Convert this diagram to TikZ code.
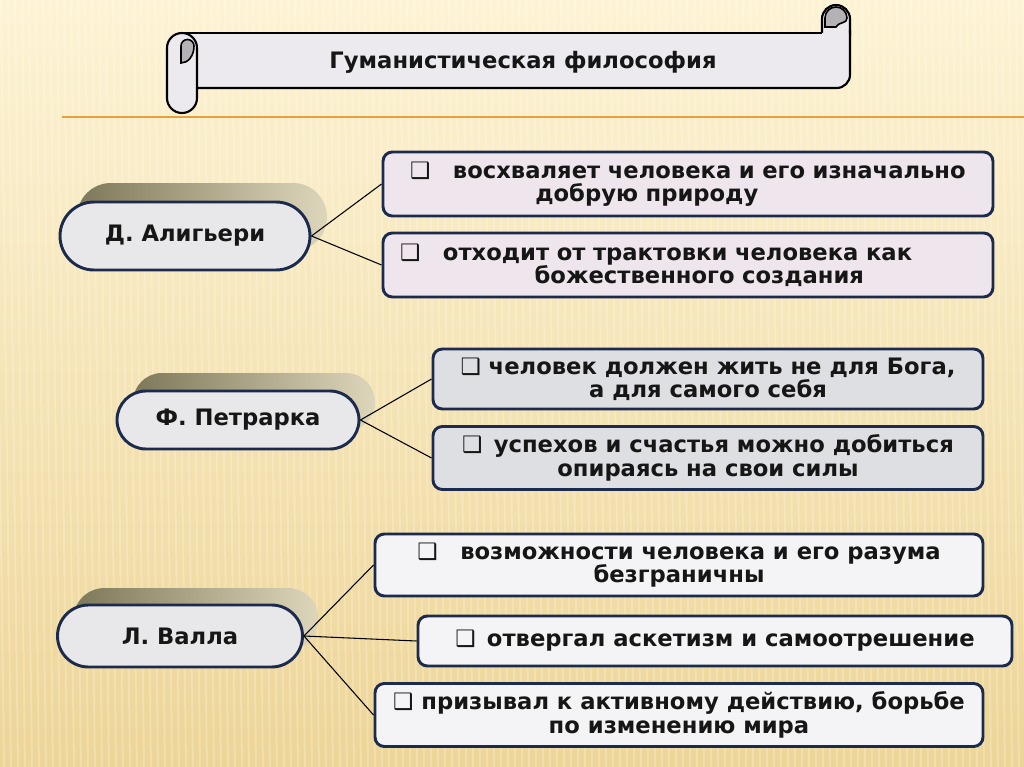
\documentclass[tikz,border=0pt]{standalone}
\usepackage{fontspec}
\setmainfont{DejaVu Sans}
\usepackage{xcolor}
\usetikzlibrary{shapes.misc,calc}
\definecolor{ink}{HTML}{161616}
\definecolor{navy}{HTML}{1C2A4E}
\definecolor{paperTop}{HTML}{FDF3D4}
\definecolor{paperBot}{HTML}{EDD597}
\definecolor{rule}{HTML}{E8A03C}
\definecolor{scroll}{HTML}{ECEAEF}
\definecolor{rollgrey}{HTML}{B4B2B6}
\definecolor{pillfill}{HTML}{E8E8EA}
\definecolor{oliveD}{HTML}{7E785A}
\definecolor{oliveL}{HTML}{DDD6BB}
\definecolor{pinkish}{HTML}{EEE6EC}
\definecolor{marble}{HTML}{DEDFE2}
\definecolor{whitish}{HTML}{F4F4F6}
\newdimen\pxu \pxu=0.75pt
\tikzset{
  every picture/.style={line width=0.8pt, text=ink},
  txt/.style={font=\bfseries\fontsize{17}{17.5}\selectfont},
  pill/.style={txt, rounded rectangle, draw=navy, line width=2.2pt, fill=pillfill, inner sep=0pt},
  pillback/.style={rounded rectangle, left color=oliveD, right color=oliveL, draw=none, inner sep=0pt},
  item/.style={txt, draw=navy, line width=2.2pt, rounded corners=7pt, align=center, inner sep=0pt},
  link/.style={draw=black, line width=0.8pt},
  scrollpart/.style={draw=black, line width=1.6pt, fill=scroll, line join=round},
}

\begin{document}
\begin{tikzpicture}[x=\pxu, y=-\pxu]
\useasboundingbox (0,0) rectangle (1024,767);
% background
\shade[top color=paperTop, bottom color=paperBot] (0,0) rectangle (1024,767);
\foreach \x in {-20,-13,...,1030} \draw[white, opacity=0.22, line width=2\pxu] (\x,0) -- (\x+10,767);
\draw[rule, line width=2\pxu] (62,117) -- (1024,117);

% title scroll
\filldraw[scrollpart] (822,36) -- (822,19) arc (180:360:14) -- (850,36);
\filldraw[draw=black, line width=1.2pt, fill=rollgrey] (825,27) -- (825,18) arc (180:360:11) .. controls (847,24) and (840,21) .. (836,27) -- cycle;
\fill[scroll] (182,33) -- (850,33) -- (850,80) -- (840,88) -- (182,88) -- cycle;
\draw[scrollpart, fill=none] (182,33) -- (822,33);
\draw[scrollpart, fill=none, rounded corners=10pt] (850,30) -- (850,88) -- (182,88);
\filldraw[scrollpart] (167,48) arc (180:360:15) -- (197,98) arc (0:180:15) -- cycle;
\filldraw[draw=black, line width=1.2pt, fill=rollgrey] (181,63) -- (181,46) arc (180:360:6.5) .. controls (194,56) and (188,63) .. (181,63) -- cycle;
\node[txt] (title) at (523,62) {Гуманистическая философия};

% thinkers
\node[pillback, minimum width=250\pxu, minimum height=68\pxu] (ali-b) at (202,217) {};
\node[pill, minimum width=250\pxu, minimum height=68\pxu] (ali) at (185,236) {Д. Алигьери};
\node[pillback, minimum width=242\pxu, minimum height=58\pxu] (pet-b) at (254,402) {};
\node[pill, minimum width=242\pxu, minimum height=58\pxu] (pet) at (238,420) {Ф. Петрарка};
\node[pillback, minimum width=245\pxu, minimum height=62\pxu] (val-b) at (196,619) {};
\node[pill, minimum width=245\pxu, minimum height=62\pxu] (val) at (180,636) {Л. Валла};

% ideas
\node[item, fill=pinkish, align=left, text width=556\pxu, minimum width=610\pxu, minimum height=64\pxu] (a1) at (688,184)
  {❑\quad восхваляет человека и его изначально\\\hspace*{94pt}добрую природу};
\node[item, fill=pinkish, align=left, text width=576\pxu, minimum width=610\pxu, minimum height=64\pxu] (a2) at (688,265)
  {❑\quad отходит от трактовки человека как\\\hspace*{101pt}божественного создания};
\node[item, fill=marble, minimum width=550\pxu, minimum height=60\pxu] (p1) at (708,379)
  {❑ человек должен жить не для Бога,\\а для самого себя};
\node[item, fill=marble, minimum width=550\pxu, minimum height=63\pxu] (p2) at (708,458)
  {❑\enspace успехов и счастья можно добиться\\опираясь на свои силы};
\node[item, fill=whitish, minimum width=608\pxu, minimum height=62\pxu] (v1) at (679,565)
  {❑\quad возможности человека и его разума\\безграничны};
\node[item, fill=whitish, minimum width=594\pxu, minimum height=50\pxu] (v2) at (715,641)
  {❑\enspace отвергал аскетизм и самоотрешение};
\node[item, fill=whitish, minimum width=608\pxu, minimum height=63\pxu] (v3) at (679,715)
  {❑ призывал к активному действию, борьбе\\по изменению мира};

% links
\foreach \s/\t in {ali/a1, ali/a2, pet/p1, pet/p2, val/v1, val/v2, val/v3}
  \draw[link] (\s.east) -- (\t.west);
\end{tikzpicture}
\end{document}
